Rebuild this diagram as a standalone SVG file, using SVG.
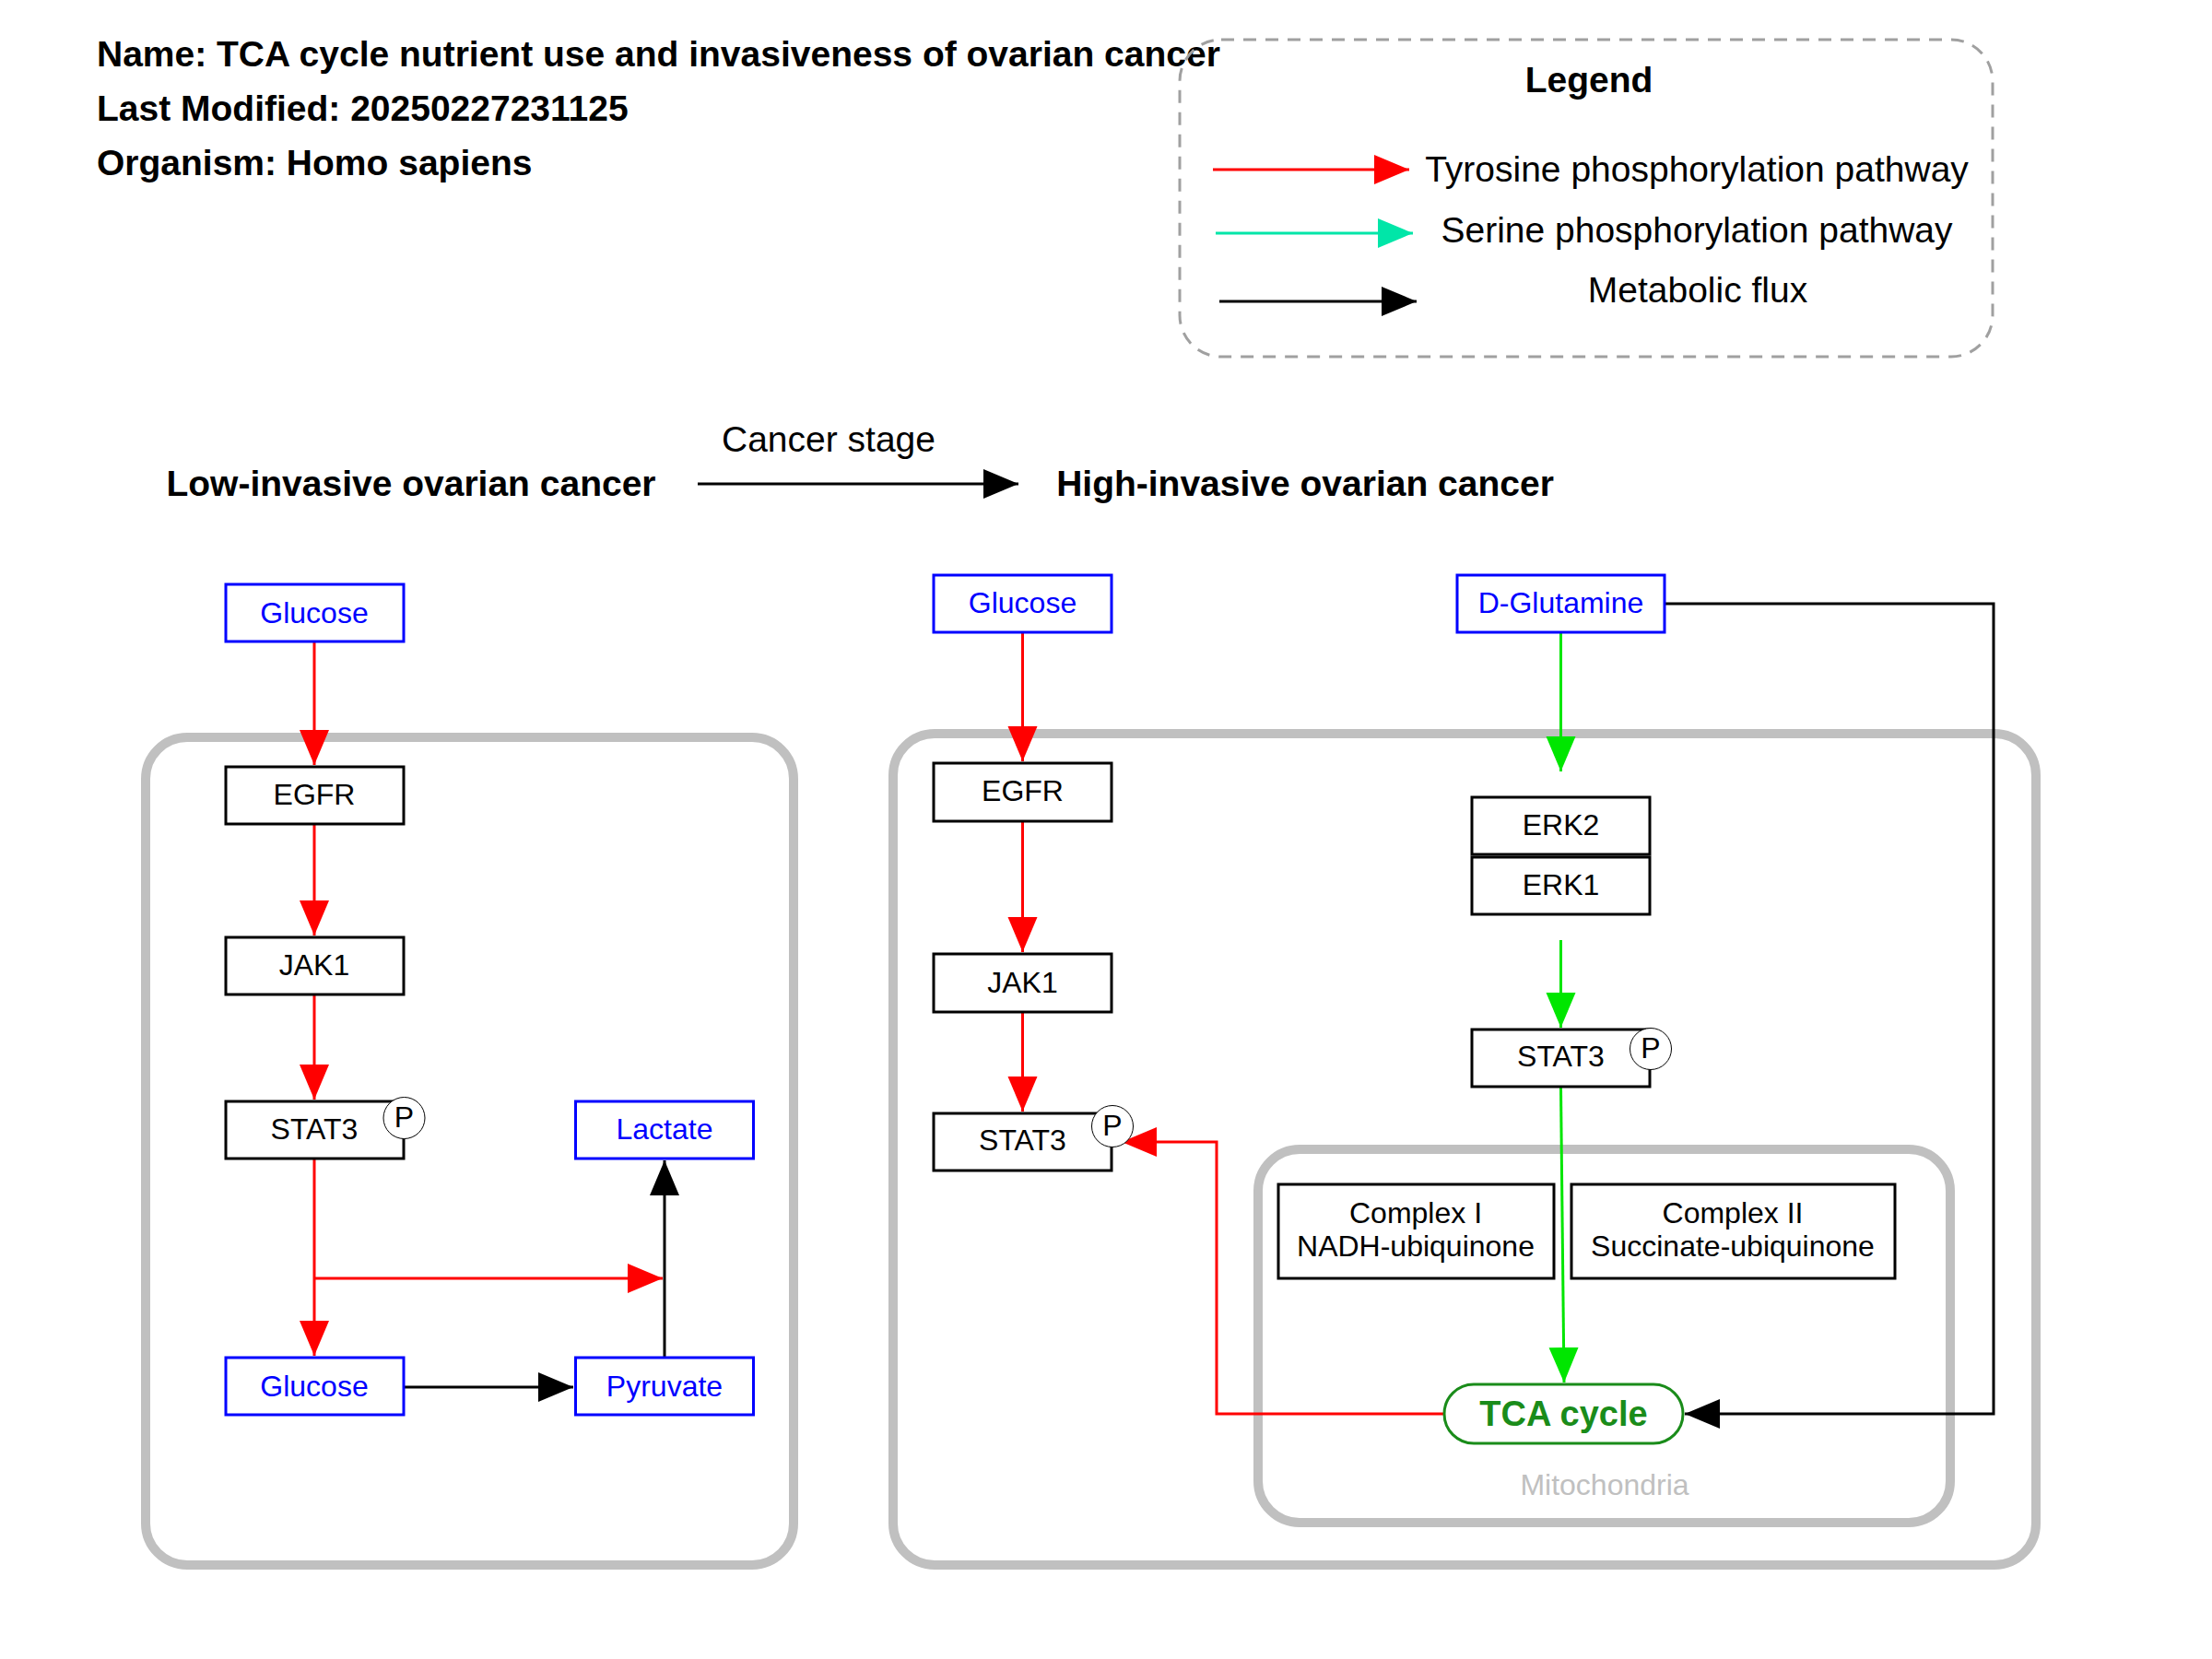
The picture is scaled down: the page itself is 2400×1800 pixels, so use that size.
<svg xmlns="http://www.w3.org/2000/svg" width="2400" height="1800" viewBox="0 0 2400 1800">
<style>
text{font-family:"Liberation Sans",Arial,sans-serif}
.hdr{font-size:39px;font-weight:bold;fill:#000}
.big{font-size:39px;fill:#000}
.lbl{font-size:32px;text-anchor:middle}
.blk{fill:#000}
.blu{fill:#0000FF}
.mbox{fill:#fff;stroke:#0000FF;stroke-width:3}
.gbox{fill:#fff;stroke:#000;stroke-width:3}
.pc{fill:#fff;stroke:#000;stroke-width:1}
.cont{fill:none;stroke:#C0C0C0;stroke-width:10}
.red{fill:none;stroke:#FF0000;stroke-width:3}
.grn{fill:none;stroke:#00E600;stroke-width:3}
.tea{fill:none;stroke:#00E6A8;stroke-width:3}
.bla{fill:none;stroke:#000;stroke-width:3}
</style>
<defs>
<marker id="aR" markerUnits="userSpaceOnUse" markerWidth="40" markerHeight="34" refX="38" refY="16" orient="auto"><path d="M0,0 L38,16 L0,32 z" fill="#FF0000"/></marker>
<marker id="aG" markerUnits="userSpaceOnUse" markerWidth="40" markerHeight="34" refX="38" refY="16" orient="auto"><path d="M0,0 L38,16 L0,32 z" fill="#00E600"/></marker>
<marker id="aT" markerUnits="userSpaceOnUse" markerWidth="40" markerHeight="34" refX="38" refY="16" orient="auto"><path d="M0,0 L38,16 L0,32 z" fill="#00E6A8"/></marker>
<marker id="aK" markerUnits="userSpaceOnUse" markerWidth="40" markerHeight="34" refX="38" refY="16" orient="auto"><path d="M0,0 L38,16 L0,32 z" fill="#000"/></marker>
</defs>
<rect width="2400" height="1800" fill="#fff"/>

<g id="header">
<text class="hdr" x="105" y="72">Name: TCA cycle nutrient use and invasiveness of ovarian cancer</text>
<text class="hdr" x="105" y="131">Last Modified: 20250227231125</text>
<text class="hdr" x="105" y="190">Organism: Homo sapiens</text>
</g>

<g id="legend">
<rect x="1280" y="43" width="882" height="344" rx="45" fill="none" stroke="#A0A0A0" stroke-width="3" stroke-dasharray="14,10"/>
<text class="hdr" x="1724" y="100" text-anchor="middle">Legend</text>
<line class="red" x1="1316" y1="184" x2="1529" y2="184" marker-end="url(#aR)"/>
<text class="big" x="1841" y="197" text-anchor="middle">Tyrosine phosphorylation pathway</text>
<line class="tea" x1="1319" y1="253" x2="1533" y2="253" marker-end="url(#aT)"/>
<text class="big" x="1841" y="263" text-anchor="middle">Serine phosphorylation pathway</text>
<line class="bla" x1="1323" y1="327" x2="1537" y2="327" marker-end="url(#aK)"/>
<text class="big" x="1842" y="328" text-anchor="middle">Metabolic flux</text>
</g>

<g id="stage">
<text class="big" x="899" y="490" text-anchor="middle">Cancer stage</text>
<text class="hdr" x="446" y="538" text-anchor="middle">Low-invasive ovarian cancer</text>
<line class="bla" x1="757" y1="525" x2="1105" y2="525" marker-end="url(#aK)"/>
<text class="hdr" x="1416" y="538" text-anchor="middle">High-invasive ovarian cancer</text>
</g>

<g id="containers">
<rect id="cell-low" class="cont" x="158" y="800" width="703" height="898" rx="45"/>
<rect id="cell-high" class="cont" x="969" y="796" width="1240" height="902" rx="45"/>
<rect id="mitochondria" class="cont" x="1365" y="1247" width="751" height="405" rx="45"/>
<text x="1741" y="1622" class="lbl" fill="#C0C0C0">Mitochondria</text>
</g>

<g id="connectors">
<line class="red" x1="341" y1="696" x2="341" y2="830" marker-end="url(#aR)"/>
<line class="red" x1="341" y1="894" x2="341" y2="1015" marker-end="url(#aR)"/>
<line class="red" x1="341" y1="1079" x2="341" y2="1193" marker-end="url(#aR)"/>
<line class="red" x1="341" y1="1257" x2="341" y2="1471" marker-end="url(#aR)"/>
<line class="red" x1="341" y1="1387" x2="719" y2="1387" marker-end="url(#aR)"/>
<line class="bla" x1="438" y1="1505" x2="622" y2="1505" marker-end="url(#aK)"/>
<line class="bla" x1="721" y1="1473" x2="721" y2="1259" marker-end="url(#aK)"/>

<line class="red" x1="1109.5" y1="686" x2="1109.5" y2="826" marker-end="url(#aR)"/>
<line class="red" x1="1109.5" y1="891" x2="1109.5" y2="1033" marker-end="url(#aR)"/>
<line class="red" x1="1109.5" y1="1098" x2="1109.5" y2="1206" marker-end="url(#aR)"/>
<polyline class="red" points="1567,1534 1320,1534 1320,1239 1217,1239" marker-end="url(#aR)"/>
<line class="grn" x1="1693.5" y1="686" x2="1693.5" y2="837" marker-end="url(#aG)"/>
<line class="grn" x1="1693.5" y1="1020" x2="1693.5" y2="1115" marker-end="url(#aG)"/>
<line class="grn" x1="1693.5" y1="1180" x2="1697" y2="1500" marker-end="url(#aG)"/>
<polyline class="bla" points="1806,655 2163,655 2163,1534 1828,1534" marker-end="url(#aK)"/>
</g>

<g id="glucose-1"><rect class="mbox" x="245" y="634" width="193" height="62"/><text class="lbl blu" x="341" y="676">Glucose</text></g>
<g id="egfr-1"><rect class="gbox" x="245" y="832" width="193" height="62"/><text class="lbl blk" x="341" y="873">EGFR</text></g>
<g id="jak1-1"><rect class="gbox" x="245" y="1017" width="193" height="62"/><text class="lbl blk" x="341" y="1058">JAK1</text></g>
<g id="stat3-1"><rect class="gbox" x="245" y="1195" width="193" height="62"/><text class="lbl blk" x="341" y="1236">STAT3</text><circle class="pc" cx="438.5" cy="1213" r="22.5"/><text class="lbl blk" x="438.5" y="1223">P</text></g>
<g id="lactate"><rect class="mbox" x="624.5" y="1195" width="193" height="62"/><text class="lbl blu" x="721" y="1236">Lactate</text></g>
<g id="glucose-2"><rect class="mbox" x="245" y="1473" width="193" height="62"/><text class="lbl blu" x="341" y="1515">Glucose</text></g>
<g id="pyruvate"><rect class="mbox" x="624.5" y="1473" width="193" height="62"/><text class="lbl blu" x="721" y="1515">Pyruvate</text></g>

<g id="glucose-3"><rect class="mbox" x="1013" y="624" width="193" height="62"/><text class="lbl blu" x="1109.5" y="665">Glucose</text></g>
<g id="d-glutamine"><rect class="mbox" x="1581" y="624" width="225" height="62"/><text class="lbl blu" x="1693.5" y="665">D-Glutamine</text></g>
<g id="egfr-2"><rect class="gbox" x="1013" y="828" width="193" height="63"/><text class="lbl blk" x="1109.5" y="869">EGFR</text></g>
<g id="jak1-2"><rect class="gbox" x="1013" y="1035" width="193" height="63"/><text class="lbl blk" x="1109.5" y="1077">JAK1</text></g>
<g id="stat3-2"><rect class="gbox" x="1013" y="1208" width="193" height="62"/><text class="lbl blk" x="1109.5" y="1248">STAT3</text><circle class="pc" cx="1207" cy="1222" r="22.5"/><text class="lbl blk" x="1207" y="1232">P</text></g>
<g id="erk2"><rect class="gbox" x="1597" y="865" width="193" height="62"/><text class="lbl blk" x="1693.5" y="906">ERK2</text></g>
<g id="erk1"><rect class="gbox" x="1597" y="930" width="193" height="62"/><text class="lbl blk" x="1693.5" y="971">ERK1</text></g>
<g id="stat3-3"><rect class="gbox" x="1597" y="1117" width="193" height="62"/><text class="lbl blk" x="1693.5" y="1157">STAT3</text><circle class="pc" cx="1791" cy="1138" r="22.5"/><text class="lbl blk" x="1791" y="1148">P</text></g>
<g id="complex-1"><rect class="gbox" x="1387" y="1285" width="299" height="102"/><text class="lbl blk" x="1536" y="1327">Complex I</text><text class="lbl blk" x="1536" y="1363">NADH-ubiquinone</text></g>
<g id="complex-2"><rect class="gbox" x="1705" y="1285" width="351" height="102"/><text class="lbl blk" x="1880" y="1327">Complex II</text><text class="lbl blk" x="1880" y="1363">Succinate-ubiquinone</text></g>
<g id="tca-cycle"><rect x="1567" y="1502" width="259" height="64" rx="32" fill="#fff" stroke="#1A8C1A" stroke-width="3"/><text x="1696.5" y="1547" text-anchor="middle" font-size="38" font-weight="bold" fill="#1A8C1A">TCA cycle</text></g>
</svg>
